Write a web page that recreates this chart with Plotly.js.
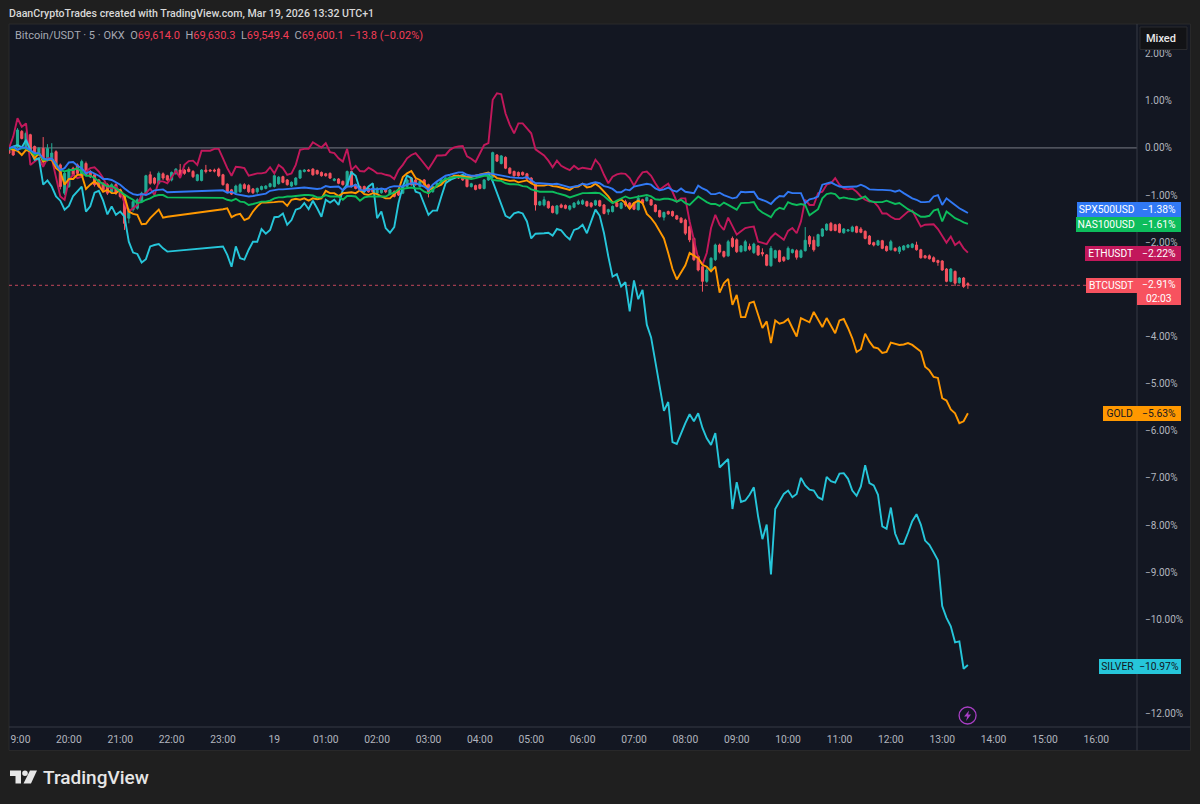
<!DOCTYPE html>
<html><head><meta charset="utf-8">
<script src="https://cdn.plot.ly/plotly-3.0.1.min.js"></script>
<style>html,body{margin:0;padding:0;background:#1f1f1f;overflow:hidden}#c{width:1200px;height:804px}</style>
</head><body><div id="c"></div>
<script>
// 5-minute bars: bar 0 = 19:00 on Mar 18; values are % change from the comparison start
const N_BARS = 225, FIRST_BAR = -2;
const barIdx = Array.from({length:N_BARS},(_,k)=>k+FIRST_BAR);
const C_O = [-.01,-.04,.03,.35,.03,.28,.03,-.15,-.01,-.25,
-.25,-.08,-.36,-.96,-.82,-.43,-.36,-.61,-.33,-.50,
-.57,-.68,-.75,-.78,-.93,-.78,-.89,-1.03,-1.49,-1.31,
-1.28,-1.14,-.96,-.57,-.64,-.75,-.55,-.59,-.68,-.54,
-.47,-.47,-.45,-.50,-.69,-.69,-.47,-.47,-.47,-.45,
-.57,-.77,-.89,-.95,-.93,-.78,-.80,-.87,-.93,-.88,
-.86,-.82,-.82,-.76,-.61,-.68,-.81,-.78,-.64,-.50,
-.47,-.45,-.48,-.52,-.55,-.54,-.69,-.66,-.71,-.82,
-.50,-.78,-.82,-.82,-.86,-.86,-.96,-.95,-.88,-.98,
-.93,-.89,-.96,-.82,-.64,-.68,-.82,-.68,-.78,-.93,
-.82,-.75,-.71,-.69,-.64,-.59,-.59,-.64,-.82,-.80,
-.78,-.86,-.68,-.62,-.15,-.33,-.20,-.43,-.50,-.52,
-.52,-.55,-.64,-.77,-1.21,-1.21,-1.14,-1.24,-1.39,-1.21,
-1.22,-1.30,-1.26,-1.19,-1.19,-1.14,-1.17,-1.21,-1.12,-1.21,
-1.36,-1.35,-1.17,-1.28,-1.14,-1.17,-1.17,-1.31,-1.10,-1.12,
-1.10,-1.21,-1.33,-1.47,-1.35,-1.35,-1.44,-1.49,-1.53,-1.67,
-1.92,-2.30,-2.52,-2.83,-2.59,-2.37,-2.06,-2.20,-2.29,-1.92,
-1.95,-2.20,-2.18,-2.09,-2.22,-2.08,-2.22,-2.27,-2.50,-2.33,
-2.18,-2.32,-2.36,-2.22,-2.18,-2.32,-2.18,-1.88,-1.96,-2.08,
-1.87,-1.74,-1.60,-1.63,-1.62,-1.80,-1.76,-1.77,-1.67,-1.72,
-1.77,-1.87,-2.01,-2.06,-1.97,-2.09,-2.16,-2.13,-2.20,-2.16,
-2.11,-2.11,-2.06,-2.16,-2.29,-2.29,-2.33,-2.39,-2.40,-2.57,
-2.83,-2.62,-2.86,-2.76,-2.88];
const C_C = [-.11,-.15,.38,.20,.31,-.04,-.15,-.01,-.29,-.01,
-.11,-.36,-.82,-.54,-.47,-.57,-.54,-.29,-.57,-.61,
-.78,-.82,-.89,-.96,-.78,-.96,-1.03,-1.60,-1.31,-1.14,
-1.10,-.96,-.59,-.75,-.75,-.54,-.64,-.68,-.52,-.45,
-.59,-.54,-.50,-.61,-.57,-.47,-.50,-.49,-.49,-.59,
-.78,-.93,-.98,-.81,-.78,-.86,-.93,-.95,-.86,-.82,
-.81,-.76,-.59,-.62,-.73,-.78,-.73,-.64,-.48,-.47,
-.49,-.57,-.55,-.59,-.59,-.64,-.66,-.75,-.78,-.50,
-.82,-.86,-.89,-.89,-.93,-.93,-.86,-.89,-.93,-.89,
-1.03,-1.00,-.82,-.68,-.78,-.78,-.71,-.78,-.96,-.82,
-.75,-.68,-.64,-.62,-.59,-.64,-.68,-.82,-.76,-.88,
-.86,-.68,-.57,-.10,-.28,-.17,-.43,-.54,-.59,-.59,
-.57,-.66,-.75,-1.21,-1.14,-1.10,-1.27,-1.37,-1.23,-1.26,
-1.28,-1.23,-1.17,-1.14,-1.12,-1.23,-1.24,-1.12,-1.23,-1.39,
-1.31,-1.24,-1.24,-1.17,-1.21,-1.28,-1.30,-1.07,-1.17,-1.05,
-1.21,-1.35,-1.46,-1.37,-1.40,-1.44,-1.51,-1.58,-1.81,-1.95,
-2.37,-2.59,-2.83,-2.59,-2.34,-2.06,-2.21,-2.30,-1.99,-2.09,
-2.20,-2.08,-1.99,-2.15,-2.04,-2.27,-2.25,-2.49,-2.13,-2.18,
-2.41,-2.39,-2.13,-2.16,-2.32,-2.18,-1.96,-2.04,-2.16,-1.84,
-1.72,-1.62,-1.75,-1.75,-1.79,-1.72,-1.74,-1.68,-1.79,-1.79,
-1.92,-2.04,-2.06,-1.97,-2.13,-2.18,-1.99,-2.18,-2.11,-2.08,
-2.06,-2.04,-2.16,-2.33,-2.33,-2.35,-2.41,-2.43,-2.59,-2.83,
-2.57,-2.87,-2.76,-2.94,-2.91];
const C_H = [0,-.02,.42,.38,.35,.30,.05,.02,.23,.08,
.10,-.05,-.33,-.50,-.43,-.40,-.33,-.25,-.29,-.47,
-.54,-.66,-.73,-.75,-.75,-.75,-.87,-1.00,-1.28,-1.10,
-1.07,-.93,-.57,-.50,-.62,-.50,-.52,-.57,-.50,-.43,
-.34,-.45,-.40,-.47,-.55,-.45,-.36,-.45,-.44,-.42,
-.55,-.75,-.87,-.78,-.75,-.75,-.77,-.85,-.84,-.80,
-.79,-.74,-.56,-.60,-.59,-.66,-.71,-.62,-.46,-.45,
-.45,-.43,-.46,-.50,-.53,-.52,-.64,-.64,-.69,-.48,
-.48,-.76,-.80,-.80,-.84,-.84,-.83,-.87,-.86,-.87,
-.90,-.87,-.80,-.65,-.62,-.65,-.69,-.66,-.76,-.80,
-.73,-.66,-.62,-.60,-.57,-.57,-.57,-.62,-.74,-.78,
-.76,-.66,-.55,-.08,-.13,-.15,-.18,-.41,-.48,-.50,
-.50,-.53,-.62,-.75,-1.12,-1.03,-1.12,-1.22,-1.21,-1.18,
-1.20,-1.21,-1.15,-1.10,-1.09,-1.12,-1.15,-1.10,-1.10,-1.19,
-1.29,-1.22,-1.15,-1.15,-1.10,-1.15,-1.15,-1.00,-1.08,-1.03,
-1.08,-1.19,-1.31,-1.35,-1.33,-1.33,-1.42,-1.47,-1.50,-1.65,
-1.90,-2.28,-2.50,-2.55,-2.32,-2.03,-2.03,-2.18,-1.95,-1.88,
-1.92,-2.06,-1.95,-2.03,-2.01,-2.06,-2.13,-2.25,-2.08,-2.16,
-2.16,-2.30,-2.09,-2.14,-2.15,-2.15,-1.68,-1.85,-1.88,-1.82,
-1.70,-1.60,-1.57,-1.61,-1.60,-1.70,-1.72,-1.65,-1.65,-1.68,
-1.75,-1.85,-1.99,-1.95,-1.95,-2.07,-1.95,-2.11,-2.08,-2.06,
-2.04,-2.02,-1.99,-2.14,-2.27,-2.26,-2.30,-2.37,-2.38,-2.55,
-2.55,-2.60,-2.74,-2.74,-2.85];
const C_L = [-.13,-.17,0,.18,0,-.06,-.17,-.17,-.36,-.29,
-.27,-.38,-.88,-1.00,-.85,-.60,-.57,-.64,-.60,-.64,
-.82,-.85,-.93,-1.00,-.96,-1.00,-1.07,-1.74,-1.60,-1.35,
-1.31,-1.17,-1.00,-.78,-.78,-.78,-.68,-.71,-.71,-.57,
-.61,-.57,-.52,-.64,-.71,-.71,-.54,-.50,-.52,-.62,
-.80,-.96,-1.00,-.98,-.95,-.88,-.96,-.98,-.97,-.90,
-.88,-.84,-.84,-.78,-.75,-.80,-.83,-.80,-.66,-.52,
-.50,-.59,-.57,-.61,-.61,-.66,-.71,-.77,-.80,-.84,
-.84,-.88,-.91,-.92,-.95,-.95,-.99,-.97,-.96,-1.00,
-1.05,-1.02,-.98,-.85,-.80,-.80,-.84,-.81,-1.05,-.95,
-.84,-.77,-.73,-.71,-.66,-.66,-.70,-.84,-.84,-.90,
-.88,-.88,-.70,-.65,-.30,-.35,-.45,-.56,-.61,-.61,
-.59,-.68,-.77,-1.33,-1.23,-1.24,-1.29,-1.39,-1.42,-1.28,
-1.30,-1.33,-1.28,-1.21,-1.21,-1.25,-1.27,-1.23,-1.25,-1.41,
-1.42,-1.37,-1.26,-1.30,-1.25,-1.30,-1.32,-1.33,-1.19,-1.14,
-1.23,-1.37,-1.48,-1.54,-1.42,-1.46,-1.53,-1.60,-1.85,-2.00,
-2.40,-2.62,-3.05,-2.86,-2.62,-2.40,-2.24,-2.33,-2.31,-2.12,
-2.23,-2.22,-2.20,-2.18,-2.25,-2.29,-2.30,-2.51,-2.52,-2.35,
-2.43,-2.42,-2.38,-2.24,-2.37,-2.34,-2.20,-2.10,-2.20,-2.10,
-1.89,-1.76,-1.77,-1.77,-1.81,-1.82,-1.78,-1.79,-1.81,-1.81,
-1.94,-2.06,-2.09,-2.08,-2.15,-2.20,-2.18,-2.20,-2.25,-2.18,
-2.13,-2.13,-2.18,-2.35,-2.35,-2.37,-2.43,-2.50,-2.61,-2.85,
-2.85,-2.93,-2.88,-2.97,-2.99];

const _ = null; // market closed
const closedGap = [_,_,_,_,_,_,_,_,_,_,_,_];
const silver = [-.04,.03,.06,.01,.17,-.04,-.25,-.22,-.78,-.69,-.82,-1.03,-1.12,-1.31,-1.23,-1.02,-.93,-.82,-1.35,-1.24,-.95,-.91,-1.12,-1.41,-1.24,-1.42,-1.35,-1.46,-1.99,-2.22,-2.25,-2.43,-2.36,-2.09,-2.06,-2.04,-2.13,-2.20,
...closedGap,
-2.09,-2.27,-2.52,-2.09,-2.34,-2.37,-2.16,-1.99,-1.99,-1.72,-1.82,-1.74,-1.47,-1.46,-1.39,-1.63,-1.53,-1.31,-1.28,-1.17,-1.30,-1.12,-1.28,-1.46,-1.10,-1.16,-1.10,-1.21,-.89,-.78,-.52,-.59,-.89,-.93,-.82,-.75,-1.49,-1.35,-1.70,-1.80,-1.68,
-1.17,-.82,-.59,-.64,-.93,-.96,-1.21,-1.42,-1.33,-1.33,-1.03,-.75,-.68,-.64,-.61,-.57,-.62,-.62,-.59,-.59,-.56,-.54,-.71,-.96,-1.21,-1.44,-1.49,-1.39,-1.36,-1.39,-1.56,-1.92,-1.82,-1.82,-1.81,-1.80,-1.86,-1.72,-1.75,-1.86,-1.94,-1.74,-1.71,-1.63,-1.81,-1.56,-1.31,-1.44,-1.81,-2.30,
-2.73,-2.68,-2.94,-2.85,-3.47,-2.81,-3.21,-3.01,-3.75,-4.02,-4.53,-5.06,-5.58,-5.39,
-6.24,-6.28,-6.05,-5.84,-5.65,-5.80,-5.63,-5.94,-6.16,-6.30,-6.05,-6.78,-6.69,-6.60,-7.66,-7.09,-7.51,-7.48,-7.36,-7.20,-7.82,-8.30,-7.99,-9.05,-7.66,-7.50,-7.34,-7.27,-7.41,-7.34,-7.00,-7.16,-7.25,-7.27,-7.41,-7.46,-6.98,-7.07,-7.10,-6.91,-6.90,-7.02,-7.27,-7.38,-7.18,-6.73,-7.11,-7.16,-7.36,-8.03,-8.08,-7.63,-8.18,-8.40,-8.40,-8.17,-7.92,-7.77,-7.99,-8.33,-8.42,-8.58,-8.75,-9.72,-9.97,-10.15,-10.49,-10.47,-11.05,-10.97];
const gold = [-.01,-.04,-.06,-.15,-.04,-.08,-.22,-.11,-.29,-.25,-.25,-.43,-.50,-.78,-.66,-.66,-.57,-.57,-.87,-.78,-.71,-.80,-.93,-.89,-.96,-.96,-.89,-1.03,-1.35,-1.40,-1.42,-1.62,-1.61,-1.49,-1.39,-1.31,-1.48,-1.46,
...closedGap,
-1.30,-1.28,-1.47,-1.42,-1.40,-1.53,-1.49,-1.35,-1.24,-1.16,-1.16,-1.16,-1.15,-1.14,-1.14,-1.23,-1.10,-1.08,-1.10,-1.07,-1.12,-1.07,-1.09,-1.07,-.91,-.96,-.96,-1.02,-.96,-.95,-.94,-.96,-.90,-.98,-1.00,-.96,-.98,-1.03,-1.07,-1.07,-.98,
-.89,-.62,-.54,-.49,-.64,-.68,-.75,-.89,-.86,-.82,-.78,-.68,-.64,-.59,-.59,-.61,-.62,-.61,-.59,-.57,-.54,-.52,-.57,-.64,-.66,-.68,-.70,-.69,-.73,-.71,-.69,-.75,-.80,-.80,-.80,-.78,-.81,-.82,-.84,-.86,-.89,-.83,-.82,-.76,-.84,-.82,-.76,-.83,-.93,-1.03,-1.16,-1.14,-1.09,-1.17,-1.29,-1.17,-1.12,-1.17,-1.40,-1.49,-1.61,-1.77,-1.92,-2.23,-2.57,-2.79,-2.64,-2.49,-2.23,-2.29,-2.34,-2.48,-2.52,-2.62,-2.52,
-3.07,-2.87,-2.78,-3.33,-3.12,-3.59,-3.59,-3.29,-3.26,-3.54,-3.82,-3.68,-4.14,-3.66,-3.73,-3.70,-3.63,-3.82,-4.00,-3.61,-3.66,-3.70,-3.48,-3.63,-3.80,-3.61,-3.77,-3.93,-3.66,-3.63,-3.82,-4.04,-4.33,-4.27,-3.94,-4.11,-4.23,-4.25,-4.35,-4.33,-4.13,-4.16,-4.18,-4.17,-4.14,-4.18,-4.25,-4.32,-4.64,-4.72,-4.86,-4.88,-5.31,-5.36,-5.55,-5.63,-5.84,-5.80,-5.63];
const eth = [-.01,.24,.63,.45,.52,-.36,-.29,-.22,-.40,-.22,-.22,-.64,-1.03,-1.10,-.68,-.57,-.64,-.61,-.50,-.43,-.41,-.50,-.64,-.82,-.86,-.82,-.93,-1.17,-1.35,-1.28,-1.21,-1.00,-.96,-.86,-1.00,-.71,-.71,-.75,-.61,-.49,-.64,-.36,-.28,-.27,-.36,-.06,-.06,-.06,-.02,-.02,-.22,-.43,-.59,-.40,-.41,-.43,-.59,-.56,-.54,-.54,-.52,-.41,-.54,-.36,-.43,-.57,-.54,-.36,-.04,-.02,-.02,.12,.06,.01,.10,-.09,-.11,-.22,-.29,-.02,-.47,-.38,-.49,-.50,-.42,-.47,-.54,-.54,-.57,-.59,-.66,
-.47,-.36,-.22,-.15,-.11,-.22,-.34,-.45,-.31,-.16,-.16,-.15,-.04,.01,.03,.04,-.18,-.23,-.30,-.13,.06,.10,1.02,1.16,1.14,.73,.49,.31,.52,.52,.42,.31,-.03,-.09,-.16,-.27,-.41,-.27,-.38,-.43,-.47,-.38,-.45,-.42,-.43,-.45,-.25,-.36,-.57,-.75,-.61,-.56,-.54,-.55,-.64,-.80,-.64,-.52,-.50,-.59,-.75,-.89,-.82,-.76,-.93,-1.14,-1.07,-1.07,-1.56,-1.95,
-2.34,-2.48,-2.23,-1.70,-1.42,-1.63,-1.74,-1.48,-1.67,-1.84,-1.77,-1.70,-1.68,-1.67,-1.99,-2.01,-2.04,-1.90,-1.81,-1.88,-1.95,-1.76,-1.70,-1.81,-1.56,-1.10,-1.21,-1.21,-.96,-.93,-.78,-.75,-.64,-.78,-.86,-.88,-.86,-.93,-1.03,-1.10,-1.14,-1.14,-1.24,-1.39,-1.39,-1.46,-1.51,-1.51,-1.42,-1.35,-1.33,-1.49,-1.67,-1.63,-1.63,-1.62,-1.72,-1.88,-2.01,-1.88,-2.06,-1.99,-2.13,-2.22];
const spx = [-.01,.03,-.04,.01,.01,-.06,-.11,-.11,-.22,-.25,-.22,-.36,-.47,-.43,-.31,-.30,-.38,-.43,-.54,-.50,-.54,-.59,-.66,-.66,-.68,-.73,-.78,-.86,-.93,-.98,-1.00,-.98,-1.00,-.96,-.90,-.89,-.88,-.94,
...closedGap,
-.90,-.95,-.93,-.98,-1.00,-1.02,-1.03,-1.02,-1.00,-.98,-.97,-.91,-.89,-.88,-.88,-.87,-.86,-.85,-.84,-.84,-.85,-.86,-.87,-.86,-.81,-.83,-.83,-.82,-.90,-.82,-.82,-.78,-.89,-.90,-.89,-.87,-.88,-.86,-.88,-.83,-.81,
-.81,-.82,-.78,-.75,-.75,-.78,-.82,-.89,-.78,-.71,-.64,-.59,-.57,-.54,-.52,-.52,-.57,-.59,-.59,-.57,-.55,-.54,-.55,-.57,-.59,-.61,-.62,-.63,-.63,-.64,-.62,-.69,-.75,-.75,-.76,-.76,-.77,-.76,-.78,-.81,-.84,-.82,-.80,-.76,-.78,-.75,-.73,-.75,-.81,-.83,-.87,-.94,-.94,-.88,-.90,-.82,-.80,-.78,-.76,-.78,-.86,-.90,-.88,-.84,-.90,-.93,-.86,-.93,-.94,-.96,
-.80,-.86,-.90,-.98,-.98,-.95,-1.00,-1.03,-1.07,-1.05,-.93,-.94,-.93,-.93,-1.07,-1.10,-1.14,-1.19,-1.09,-1.02,-1.03,-.93,-.96,-.96,-.96,-1.17,-1.09,-1.07,-1.03,-.78,-.75,-.73,-.78,-.82,-.83,-.83,-.82,-.82,-.78,-.82,-.88,-.89,-.89,-.89,-.90,-.90,-.93,-.90,-.96,-1.02,-1.07,-1.10,-1.15,-1.15,-1.14,-1.03,-1.00,-1.21,-1.07,-1.14,-1.21,-1.28,-1.33,-1.38];
const nas = [-.03,.01,-.04,-.01,-.01,-.06,-.15,-.11,-.25,-.25,-.22,-.33,-.47,-.50,-.47,-.47,-.43,-.50,-.59,-.59,-.64,-.71,-.77,-.82,-.81,-.86,-.93,-1.00,-1.05,-1.10,-1.17,-1.15,-1.10,-1.07,-1.02,-1.00,-1.00,-1.05,
...closedGap,
-1.06,-1.10,-1.12,-1.08,-1.14,-1.15,-1.21,-1.19,-1.17,-1.14,-1.14,-1.12,-1.07,-1.05,-1.05,-1.03,-1.03,-1.02,-1.00,-1.00,-1.00,-1.01,-1.05,-1.05,-1.00,-1.03,-1.03,-1.03,-1.10,-1.02,-1.02,-1.03,-1.12,-1.05,-1.03,-1.03,-1.03,-1.02,-1.03,-.98,-.95,
-.88,-.87,-.86,-.84,-.86,-.86,-.93,-.96,-.89,-.81,-.71,-.66,-.64,-.62,-.62,-.63,-.64,-.66,-.64,-.62,-.59,-.59,-.68,-.69,-.70,-.75,-.77,-.77,-.78,-.81,-.82,-.88,-.90,-.93,-.93,-.93,-.93,-.96,-.98,-1.01,-1.05,-1.02,-1.00,-.96,-.96,-.95,-.95,-.96,-1.02,-1.10,-1.17,-1.12,-1.07,-1.03,-1.07,-1.05,-1.03,-1.02,-1.00,-1.03,-1.09,-1.10,-1.08,-1.08,-1.10,-1.14,-1.10,-1.17,-1.21,-1.12,
-1.03,-1.09,-1.15,-1.19,-1.19,-1.23,-1.16,-1.21,-1.26,-1.31,-1.17,-1.17,-1.16,-1.15,-1.30,-1.37,-1.42,-1.47,-1.33,-1.27,-1.30,-1.15,-1.19,-1.21,-1.19,-1.21,-1.43,-1.37,-1.30,-1.07,-.98,-.96,-.98,-1.07,-1.05,-1.07,-1.09,-1.10,-1.07,-1.03,-1.12,-1.15,-1.15,-1.15,-1.12,-1.16,-1.19,-1.17,-1.24,-1.30,-1.35,-1.40,-1.46,-1.46,-1.44,-1.33,-1.30,-1.56,-1.35,-1.42,-1.49,-1.53,-1.58,-1.61];

const yTickVals = [2,1,0,-1,-2,-3,-4,-5,-6,-7,-8,-9,-10,-11,-12];
const yTickText = ["2.00%","1.00%","0.00%","−1.00%","−2.00%","","−4.00%","−5.00%","−6.00%","−7.00%","−8.00%","−9.00%","−10.00%","","−12.00%"];
const xTickBars = [0.7,12,24,36,48,60,72,84,96,108,120,132,144,156,168,180,192,204,216,228,240,252];
const xTickText = ["9:00","20:00","21:00","22:00","23:00","19","01:00","02:00","03:00","04:00","05:00","06:00","07:00","08:00","09:00","10:00","11:00","12:00","13:00","14:00","15:00","16:00"];
const seriesNames = ["SPX500USD","NAS100USD","ETHUSDT","BTCUSDT","GOLD","SILVER"];
const seriesValues = ["−1.38%","−1.61%","−2.22%","−2.91%","−5.63%","−10.97%"];
const COL = {spx:"#3179f5",nas:"#0dbd5c",eth:"#c2185b",btc:"#f7525f",gold:"#ff9800",silver:"#26c6da"};

const W=1200,H=804,L=9,R=1137.5,T=24,B=727.5;
const px=x=>(x-L)/(R-L), py=y=>(B-y)/(B-T);
const line=(y,c,n)=>({type:"scatter",mode:"lines",x:barIdx,y:y,name:n,connectgaps:true,hoverinfo:"skip",
  line:{color:c,width:1.9,shape:"linear"}});
const traces=[
 {type:"candlestick",x:barIdx,open:C_O,high:C_H,low:C_L,close:C_C,name:"Bitcoin/USDT",whiskerwidth:0,hoverinfo:"skip",
  increasing:{line:{color:"#22ab94",width:1},fillcolor:"#22ab94"},
  decreasing:{line:{color:"#f7525f",width:1},fillcolor:"#f7525f"}},
 line(eth,COL.eth,"ETHUSDT"),line(silver,COL.silver,"SILVER"),line(gold,COL.gold,"GOLD"),line(nas,COL.nas,"NAS100USD"),line(spx,COL.spx,"SPX500USD")
];
const rect=(x0,y0,x1,y1,fill,stroke,layer)=>({type:"rect",xref:"paper",yref:"paper",x0:px(x0),x1:px(x1),y0:py(y1),y1:py(y0),
  fillcolor:fill,line:{color:stroke||fill,width:stroke?1:0},layer:layer||"below"});
const pathShape=(pts,fill)=>({type:"path",xref:"paper",yref:"paper",
  path:"M"+pts.map(p=>px(p[0])+" "+py(p[1])).join(" L")+" Z",fillcolor:fill,line:{width:0},layer:"above"});
const shapes=[
 rect(9,24,1191,751,"#131722","#2a2a2a"),
 {type:"line",xref:"paper",yref:"y",x0:0,x1:1,y0:0,y1:0,line:{color:"#787b86",width:1},layer:"below"},
 {type:"line",xref:"paper",yref:"y",x0:0,x1:1,y0:-2.915,y1:-2.915,line:{color:"#c2475a",width:1,dash:"dot"},layer:"below"},
 {type:"line",xref:"paper",yref:"paper",x0:1,x1:1,y0:py(751),y1:1,line:{color:"#363a45",width:1},layer:"below"},
 {type:"line",xref:"paper",yref:"paper",x0:0,x1:px(1191),y0:0,y1:0,line:{color:"#363a45",width:1},layer:"below"},
 rect(1140.5,27,1187.5,49.5,"#121316","#2b2c30","above"),
 {type:"circle",xref:"paper",yref:"paper",x0:px(959.5),x1:px(976.5),y0:py(724.5),y1:py(707.5),fillcolor:"rgba(0,0,0,0)",line:{color:"#a83fc4",width:1.3},layer:"above"},
 pathShape([[969.5,711],[964.5,717],[967.6,717],[966.5,721.5],[971.5,715],[968.6,715]],"#a83fc4"),
 pathShape([[10,771],[21,771],[21,784],[15.5,784],[15.5,776.5],[10,776.5]],"#e6e6e6"),
 pathShape([[30,771],[37,771],[31,784],[23.5,784]],"#e6e6e6"),
 {type:"circle",xref:"paper",yref:"paper",x0:px(22.2),x1:px(27.8),y0:py(776.6),y1:py(771),fillcolor:"#e6e6e6",line:{width:0},layer:"above"}
];
const FONT='Roboto,"Open Sans",sans-serif';
const textAt=(x,y,text,size,color,anchor,extra)=>Object.assign({xref:"paper",yref:"paper",x:px(x),y:py(y),text:text,showarrow:false,
  xanchor:anchor||"left",yanchor:"middle",font:{family:FONT,size:size,color:color},borderpad:0,borderwidth:0},extra||{});
const box=(x0,y0,x1,y1,text,bg,fg,align)=>textAt((x0+x1)/2,(y0+y1)/2,text,10.3,fg,"center",
  {width:x1-x0,height:y1-y0,bgcolor:bg,align:align||"center",valign:"middle"});
const labelRows=[[1078,202,216.5,216.5,COL.spx,"#ffffff"],[1077,217,232,232,COL.nas,"#ffffff"],[1086,246,260.5,260.5,COL.eth,"#ffffff"],
 [1087,278,293,305,COL.btc,"#ffffff"],[1104,406,421,421,COL.gold,"#131722"],[1100,659,674,674,COL.silver,"#131722"]];
const annotations=[
 textAt(8.5,13,"DaanCryptoTrades created with TradingView.com, Mar 19, 2026 13:32 UTC+1",10.6,"#d8d8d8","left",{font:{family:FONT,size:10.6,color:"#d8d8d8",weight:500}}),
 textAt(15.5,36,'Bitcoin/USDT · 5 · OKX  O<span style="color:#f23d55">69,614.0</span>  H<span style="color:#f23d55">69,630.3</span>  L<span style="color:#f23d55">69,549.4</span>  C<span style="color:#f23d55">69,600.1</span>  <span style="color:#f23d55">−13.8 (−0.02%)</span>',11,"#a6a9b2"),
 textAt(1162,38.5,"Mixed",11,"#e8e8e8","center",{font:{family:FONT,size:11,color:"#e8e8e8",weight:500}}),
 textAt(43,778,"TradingView",19,"#e6e6e6","left",{font:{family:FONT,size:19,color:"#e6e6e6",weight:500}})
];
labelRows.forEach((r,k)=>{
 annotations.push(box(r[0],r[1],1137.5,r[2],seriesNames[k],r[4],r[5]));
 annotations.push(box(1137.5,r[1],1181.5,r[3],k===3?seriesValues[k]+"<br>02:03":seriesValues[k],r[4],r[5]));
});
const layout={width:W,height:H,paper_bgcolor:"#1f1f1f",plot_bgcolor:"rgba(0,0,0,0)",showlegend:false,dragmode:false,
 margin:{l:L,r:W-R,t:T,b:H-B,pad:0},font:{family:FONT},
 xaxis:{type:"linear",range:[(L-17.5)/4.283,(R-17.5)/4.283],rangeslider:{visible:false},tickmode:"array",tickvals:xTickBars,ticktext:xTickText,
  ticks:"outside",ticklen:3,tickcolor:"rgba(0,0,0,0)",tickfont:{family:FONT,size:10.3,color:"#b2b5be"},showgrid:false,zeroline:false,showline:false,fixedrange:true},
 yaxis:{side:"right",type:"linear",range:[(148-B)/47.17,(148-T)/47.17],tickmode:"array",tickvals:yTickVals,ticktext:yTickText,
  ticks:"outside",ticklen:5,tickcolor:"rgba(0,0,0,0)",tickfont:{family:FONT,size:10,color:"#b2b5be"},showgrid:false,zeroline:false,showline:false,fixedrange:true},
 shapes:shapes,annotations:annotations
};
Plotly.newPlot("c",traces,layout,{displayModeBar:false,staticPlot:true});
</script></body></html>
